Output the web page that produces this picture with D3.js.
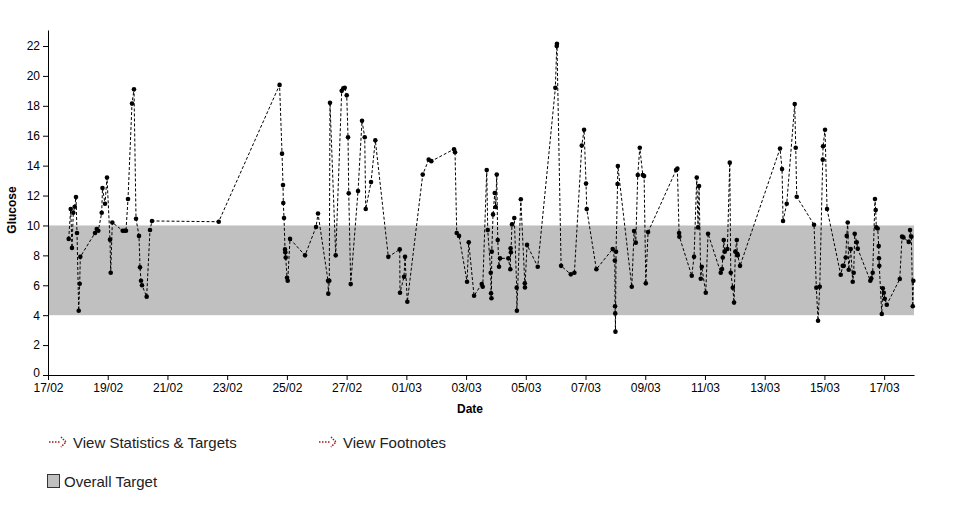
<!DOCTYPE html>
<html><head><meta charset="utf-8">
<script src="https://cdn.jsdelivr.net/npm/d3@7/dist/d3.min.js"></script>
<style>
body{margin:0;background:#fff;font-family:Arial,"Liberation Sans",sans-serif;}
</style></head><body>
<svg id="c" width="966" height="507"></svg>
<script>
const times = [
"17/02 16:38","17/02 18:15","17/02 19:17","17/02 20:20","17/02 21:28","17/02 22:30","17/02 23:19",
"18/02 00:41","18/02 01:29","18/02 01:58","18/02 13:47","18/02 15:09","18/02 16:26","18/02 19:10",
"18/02 19:48","18/02 21:49","18/02 23:25","19/02 01:50","19/02 02:24","19/02 03:41","19/02 12:02",
"19/02 13:30","19/02 14:41","19/02 16:18","19/02 19:31","19/02 21:07","19/02 22:44","20/02 01:08",
"20/02 01:57","20/02 02:45","20/02 03:33","20/02 07:18","20/02 09:59","20/02 11:35","22/02 17:12",
"24/02 18:07","24/02 20:05","24/02 20:53","24/02 21:07","24/02 21:41","24/02 22:29","24/02 22:43",
"24/02 23:03","25/02 00:06","25/02 00:40","25/02 02:31","25/02 14:35","25/02 23:25","26/02 01:01",
"26/02 09:03","26/02 09:17","26/02 10:04","26/02 10:38","26/02 15:14","26/02 20:03","26/02 21:21",
"26/02 22:28","27/02 00:05","27/02 01:08","27/02 01:42","27/02 03:18","27/02 09:10","27/02 12:23",
"27/02 14:33","27/02 15:21","27/02 19:37","27/02 23:04","28/02 09:31","28/02 18:41","28/02 18:55",
"28/02 22:08","28/02 22:56","01/03 00:47","01/03 13:10","01/03 17:59","01/03 20:05","02/03 14:20",
"02/03 15:08","02/03 16:30","02/03 18:21","03/03 00:47","03/03 02:09","03/03 06:25","03/03 12:36",
"03/03 13:24","03/03 16:37","03/03 17:25","03/03 19:50","03/03 20:04","03/03 20:24","03/03 20:38",
"03/03 21:41","03/03 23:03","03/03 23:51","04/03 00:39","04/03 01:27","04/03 02:30","04/03 03:18",
"04/03 09:58","04/03 11:34","04/03 11:48","04/03 12:03","04/03 12:55","04/03 14:46","04/03 16:41",
"04/03 16:50","04/03 20:00","04/03 23:13","04/03 23:20","05/03 01:00","05/03 09:36","05/03 23:46",
"06/03 00:53","06/03 01:03","06/03 04:22","06/03 12:11","06/03 15:04","06/03 21:00","06/03 22:51",
"07/03 00:25","07/03 00:59","07/03 08:43","07/03 21:53","07/03 23:34","07/03 23:43","07/03 23:53",
"08/03 00:03","08/03 00:32","08/03 01:45","08/03 01:59","08/03 13:11","08/03 15:02","08/03 16:24",
"08/03 18:00","08/03 19:37","08/03 22:02","08/03 23:05","09/03 00:27","09/03 02:17","10/03 00:47",
"10/03 01:50","10/03 03:12","10/03 03:26","10/03 13:23","10/03 15:14","10/03 17:24","10/03 18:26",
"10/03 19:15","10/03 20:37","10/03 21:25","11/03 00:38","11/03 02:29","11/03 12:41","11/03 13:44",
"11/03 14:18","11/03 15:06","11/03 15:54","11/03 18:00","11/03 19:56","11/03 20:44","11/03 22:21",
"11/03 23:23","12/03 00:26","12/03 01:34","12/03 01:58","12/03 02:21","12/03 04:12","13/03 12:20",
"13/03 13:57","13/03 14:45","13/03 17:43","14/03 00:09","14/03 00:57","14/03 01:45","14/03 15:40",
"14/03 17:31","14/03 18:53","14/03 20:15","14/03 22:40","14/03 22:54","15/03 00:30","15/03 02:07",
"15/03 13:07","15/03 14:44","15/03 15:32","15/03 17:08","15/03 17:56","15/03 18:44","15/03 19:32",
"15/03 21:08","15/03 22:45","15/03 23:33","16/03 00:21","16/03 01:58","16/03 02:46","16/03 12:53",
"16/03 13:41","16/03 14:48","16/03 16:39","16/03 17:13","16/03 17:42","16/03 18:50","16/03 19:38",
"16/03 19:52","16/03 20:06","16/03 22:06","16/03 22:55","16/03 23:43","17/03 00:31","17/03 02:07",
"17/03 12:34","17/03 14:25","17/03 15:27","17/03 19:47","17/03 20:50","17/03 21:53","17/03 23:00",
"17/03 23:29"
];
const glucose = [
9.1,11.1,8.5,10.85,11.25,11.9,9.5,
4.3,6.1,7.9,9.5,9.76,9.65,10.85,
12.5,11.45,13.2,9.05,6.84,10.2,9.65,
9.65,9.65,11.77,18.15,19.1,10.45,9.3,
7.2,6.3,6.0,5.24,9.7,10.3,10.25,
19.4,14.8,12.7,11.5,10.5,8.4,8.2,
7.85,6.5,6.3,9.1,8.0,9.9,10.8,
6.3,5.44,6.3,18.2,8.0,19.0,19.17,
19.2,18.7,15.9,12.15,6.08,12.3,17.0,
15.9,11.1,12.9,15.7,7.9,8.4,5.5,
6.57,7.9,4.9,13.4,14.4,14.3,15.1,
14.9,9.5,9.3,6.24,8.87,5.3,6.08,
5.9,13.7,9.7,6.84,5.46,5.13,8.25,
10.74,12.17,11.23,13.4,9.03,7.24,7.8,
7.8,7.07,8.47,8.2,10.07,10.5,5.84,
4.3,11.75,6.13,5.85,8.7,7.24,19.2,
22.0,22.15,7.3,6.73,6.84,15.34,16.4,
12.8,11.1,7.07,8.43,7.65,4.6,4.12,
2.9,8.25,12.77,13.97,5.9,9.63,8.85,
13.37,15.2,13.37,13.3,6.13,9.56,13.7,
13.8,9.5,9.25,6.64,7.9,13.2,9.87,
12.64,6.44,7.24,5.5,9.45,6.84,7.09,
7.85,9.03,8.25,8.43,14.2,6.84,5.84,
4.84,8.25,9.03,8.1,8.0,7.3,15.15,
13.77,10.3,11.45,18.12,15.2,11.92,10.05,
5.84,3.63,5.9,14.4,15.3,16.4,11.1,
6.7,7.3,7.3,7.85,9.3,10.2,7.04,
8.43,6.24,6.84,9.45,8.87,8.45,6.3,
6.46,6.84,11.77,11.03,9.87,9.8,8.62,
7.8,7.3,4.08,5.8,5.5,5.1,4.7,
6.42,9.25,9.2,8.9,9.7,9.25,4.6,
6.3
];
const yTicks = [0,2,4,6,8,10,12,14,16,18,20,22];
const targetRange = [4, 10];
const xStart = "17/02 00:00", xEnd = "18/03 00:00";
const legendItems = ["View Statistics & Targets", "View Footnotes"];
const targetLabel = "Overall Target";

const parse = d3.timeParse("%d/%m/%Y %H:%M");
const P = s => { const [d, t] = s.split(" "); return parse(d + "/2009 " + t); };
const data = times.map((t, i) => ({t: P(t), v: glucose[i]}));

const svg = d3.select("#c");
const L = 48, R = 914, T = 30, B = 375;
const x = d3.scaleTime().domain([P(xStart), P(xEnd)]).range([L, R]);
const y = d3.scaleLinear().domain([0, 23.07]).range([B, T]);
const FF = "Arial,'Liberation Sans',sans-serif";

svg.append("rect").attr("x", L).attr("width", R - L)
  .attr("y", y(targetRange[1])).attr("height", y(targetRange[0]) - y(targetRange[1]))
  .attr("fill", "#c0c0c0");

const xTicksVals = d3.timeDay.range(P(xStart), P(xEnd), 1).filter((d, i) => i % 2 === 0);
const xAxis = d3.axisBottom(x).tickValues(xTicksVals).tickFormat(d3.timeFormat("%d/%m")).tickSize(5).tickSizeOuter(0);
const gx = svg.append("g").attr("transform", `translate(0,${B})`).call(xAxis);
gx.selectAll("text").attr("font-size", 12).attr("font-family", FF).attr("fill", "#000").attr("y", 8).attr("dy", "0.71em");
gx.selectAll("line,path").attr("stroke", "#000");

const yAxis = d3.axisLeft(y).tickValues(yTicks).tickSize(5).tickSizeOuter(0);
const gy = svg.append("g").attr("transform", `translate(${L},0)`).call(yAxis);
gy.selectAll("text").attr("font-size", 12).attr("font-family", FF).attr("fill", "#000");
gy.selectAll("g.tick").filter(d => d === 0).select("text").attr("dy", "0.1em");
gy.selectAll("line,path").attr("stroke", "#000");

svg.append("path").datum(data)
  .attr("d", d3.line().x(d => x(d.t)).y(d => y(d.v)))
  .attr("fill", "none").attr("stroke", "#000").attr("stroke-width", 1).attr("stroke-dasharray", "3,2");

svg.append("g").selectAll("circle").data(data).join("circle")
  .attr("cx", d => x(d.t)).attr("cy", d => y(d.v)).attr("r", 2.3)
  .attr("fill", "#000");

svg.append("text").attr("x", 470).attr("y", 413).attr("text-anchor", "middle")
  .attr("font-family", FF).attr("font-size", 12).attr("font-weight", "bold").text("Date");
svg.append("text").attr("transform", "translate(16,210) rotate(-90)").attr("text-anchor", "middle")
  .attr("font-family", FF).attr("font-size", 12).attr("font-weight", "bold").text("Glucose");

// legend
const lx = [48, 318];
legendItems.forEach((txt, i) => {
  const g = svg.append("g").attr("transform", `translate(${lx[i]},442)`);
  g.append("line").attr("x1", 1).attr("x2", 13).attr("y1", 0).attr("y2", 0)
    .attr("stroke", "#a01818").attr("stroke-width", 1.5).attr("stroke-dasharray", "1.5,1.5");
  g.append("path").attr("d", "M13,-5 L18,0 L13,5").attr("fill", "none")
    .attr("stroke", "#a01818").attr("stroke-width", 1.5).attr("stroke-dasharray", "1.5,1.2");
  g.append("text").attr("x", 25).attr("y", 5.5).attr("font-family", FF).attr("font-size", 15).attr("fill", "#222").text(txt);
});
const tg = svg.append("g").attr("transform", "translate(47,474)");
tg.append("rect").attr("x", 0.5).attr("y", 0.5).attr("width", 12).attr("height", 13)
  .attr("fill", "#c0c0c0").attr("stroke", "#333");
tg.append("text").attr("x", 17).attr("y", 12.5).attr("font-family", FF).attr("font-size", 15).attr("fill", "#222").text(targetLabel);
</script>
</body></html>
